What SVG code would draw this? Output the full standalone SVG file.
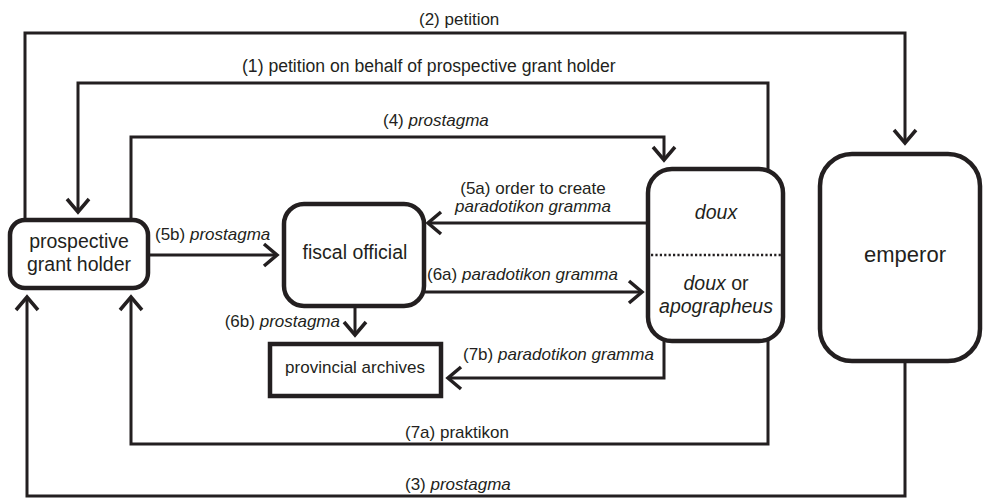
<svg xmlns="http://www.w3.org/2000/svg" width="990" height="499" viewBox="0 0 990 499">
<style>
.node{fill:#fff;stroke:#231f20;stroke-width:4.5}
.nt{font-family:"Liberation Sans",Arial,sans-serif;font-size:19.5px;fill:#231f20;text-anchor:middle}
.lb{font-family:"Liberation Sans",Arial,sans-serif;font-size:17px;fill:#231f20}
.conn path{fill:none;stroke:#231f20;stroke-width:3;stroke-linejoin:miter}
.arr{marker-end:url(#ah)}
.it{font-style:italic}
</style>
<defs>
<marker id="ah" viewBox="-20 -15 30 30" markerWidth="30" markerHeight="30" refX="0" refY="0" orient="auto" markerUnits="userSpaceOnUse">
<path d="M-13,-11 L0,0 L-13,11" fill="none" stroke="#231f20" stroke-width="3.5" stroke-linejoin="miter"/>
</marker>
</defs>
<rect width="990" height="499" fill="#fff"/>
<g id="connectors" class="conn">
<path class="arr" d="M25,220 V33 H905 V143"/>
<path class="arr" d="M768,169 V83 H78 V212"/>
<path class="arr" d="M131,220 V137 H664 V160"/>
<path class="arr" d="M905,361 V496 H27 V297"/>
<path class="arr" d="M768,341 V444 H131 V297"/>
<path class="arr" d="M664,341 V378 H448"/>
<path class="arr" d="M648,223 H428"/>
<path class="arr" d="M425,292 H642"/>
<path class="arr" d="M355,306 V335"/>
<path class="arr" d="M150,255 H277"/>
</g>
<g id="labels">
<text class="lb" x="419" y="25">(2) petition</text>
<text class="lb" x="242" y="72" style="font-size:17.6px">(1) petition on behalf of prospective grant holder</text>
<text class="lb" x="383" y="126">(4) <tspan class="it">prostagma</tspan></text>
<text class="lb" x="155" y="240">(5b) <tspan class="it">prostagma</tspan></text>
<text class="lb" x="533" y="194" text-anchor="middle">(5a) order to create</text>
<text class="lb it" x="533" y="212" text-anchor="middle">paradotikon gramma</text>
<text class="lb" x="427" y="280">(6a) <tspan class="it">paradotikon gramma</tspan></text>
<text class="lb" x="340" y="327" text-anchor="end">(6b) <tspan class="it">prostagma</tspan></text>
<text class="lb" x="463" y="360">(7b) <tspan class="it">paradotikon gramma</tspan></text>
<text class="lb" x="405" y="438">(7a) praktikon</text>
<text class="lb" x="405" y="490">(3) <tspan class="it">prostagma</tspan></text>
</g>
<g id="prospective">
<rect class="node" x="10" y="220" width="138" height="68" rx="15"/>
<text class="nt" x="79" y="248">prospective</text>
<text class="nt" x="79" y="271">grant holder</text>
</g>
<g id="fiscal">
<rect class="node" x="284" y="204" width="140" height="102" rx="20"/>
<text class="nt" x="355" y="259">fiscal official</text>
</g>
<g id="archives">
<rect class="node" x="270" y="344" width="171" height="52"/>
<text class="nt" x="355" y="373" style="font-size:17px">provincial archives</text>
</g>
<g id="doux">
<rect class="node" x="648" y="169" width="135" height="172" rx="24"/>
<line x1="651" y1="255" x2="781" y2="255" stroke="#231f20" stroke-width="2.5" stroke-dasharray="2.2,2.2"/>
<text class="nt it" x="716" y="219">doux</text>
<text class="nt" x="716" y="290"><tspan class="it">doux</tspan> or</text>
<text class="nt it" x="716" y="313">apographeus</text>
</g>
<g id="emperor">
<rect class="node" x="820" y="154" width="160" height="207" rx="32"/>
<text class="nt" x="905" y="262" style="font-size:22px">emperor</text>
</g>
</svg>
